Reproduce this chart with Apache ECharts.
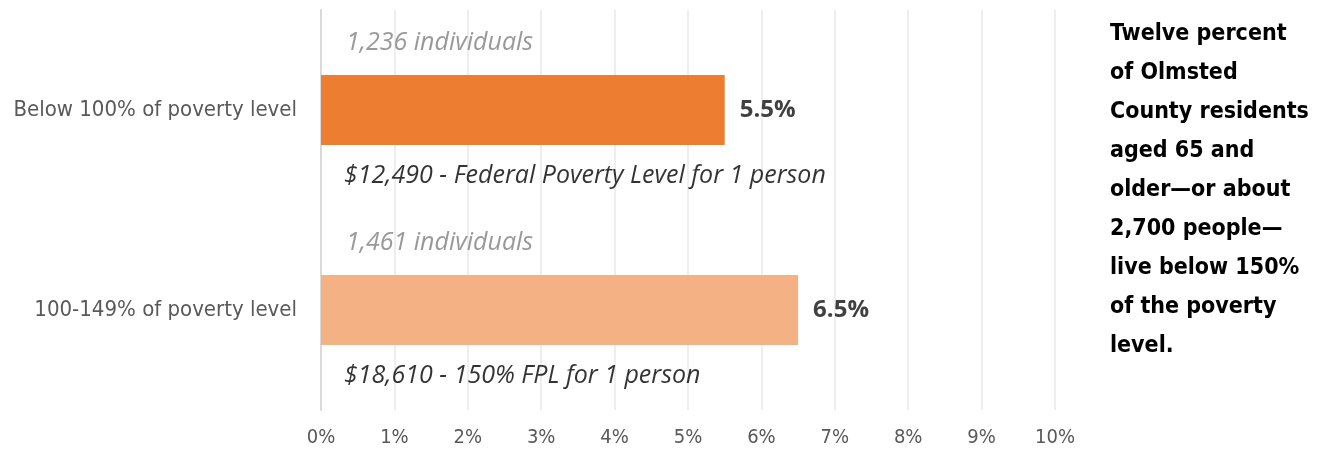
<!DOCTYPE html>
<html>
<head>
<meta charset="utf-8">
<script src="https://cdn.jsdelivr.net/npm/echarts@6/dist/echarts.min.js"></script>
<style>
  html, body { margin: 0; padding: 0; background: #fff; }
  #chart { width: 1317px; height: 452px; }
</style>
</head>
<body>
<div id="chart"></div>
<script>
// categories top to bottom
var categories = ['Below 100% of poverty level', '100-149% of poverty level'];
var values = [5.5, 6.5];
var barColors = ['#ED7D31', '#F4B183'];
var countNotes = ['1,236 individuals', '1,461 individuals'];
var incomeNotes = ['$12,490 - Federal Poverty Level for 1 person', '$18,610 - 150% FPL for 1 person'];
var sideNote = 'Twelve percent\nof Olmsted\nCounty residents\naged 65 and\nolder\u2014or about\n2,700 people\u2014\nlive below 150%\nof the poverty\nlevel.';

var narrow = '"DejaVu Sans Condensed", "Liberation Sans Narrow", sans-serif';
var italicFont = '"Open Sans", Lato, sans-serif';

var chart = echarts.init(document.getElementById('chart'));
chart.setOption({
  animation: false,
  grid: { left: 321, right: 262, top: 10, bottom: 42 },
  xAxis: {
    type: 'value',
    min: 0, max: 10, interval: 1,
    axisLine: { show: false },
    axisTick: { show: false },
    splitLine: { lineStyle: { color: '#E8E8E8', width: 1.5 } },
    axisLabel: {
      formatter: '{value}%',
      fontFamily: narrow, fontSize: 20, color: '#595959', margin: 18
    }
  },
  yAxis: {
    type: 'category',
    inverse: true,
    data: categories,
    axisLine: { show: true, lineStyle: { color: '#D9D9D9', width: 2 } },
    axisTick: { show: false },
    axisLabel: { fontFamily: narrow, fontSize: 22, color: '#595959', margin: 24 }
  },
  series: [
    {
      type: 'bar',
      barWidth: 70,
      data: values.map(function (v, i) { return { value: v, itemStyle: { color: barColors[i] } }; }),
      label: {
        show: true, position: 'right', distance: 15,
        formatter: '{c}%',
        fontFamily: italicFont, fontWeight: 'bold', fontSize: 24, color: '#404040'
      },
      z: 2
    },
    {
      type: 'scatter',
      symbolSize: 0,
      data: countNotes.map(function (t, i) { return { value: [0, i], name: t }; }),
      label: {
        show: true, position: 'right', offset: [20, -67],
        formatter: '{b}',
        fontFamily: italicFont, fontStyle: 'italic', fontSize: 25, color: '#808080'
      },
      silent: true, z: 3
    },
    {
      type: 'scatter',
      symbolSize: 0,
      data: incomeNotes.map(function (t, i) { return { value: [0, i], name: t }; }),
      label: {
        show: true, position: 'right', offset: [18, 66],
        formatter: '{b}',
        fontFamily: italicFont, fontStyle: 'italic', fontSize: 25, color: '#000000'
      },
      silent: true, z: 3
    }
  ],
  graphic: [{
    type: 'text',
    left: 1110, top: 15,
    style: {
      text: sideNote,
      font: 'bold 23px ' + narrow,
      lineHeight: 39,
      fill: '#000000'
    }
  }]
});
</script>
</body>
</html>
